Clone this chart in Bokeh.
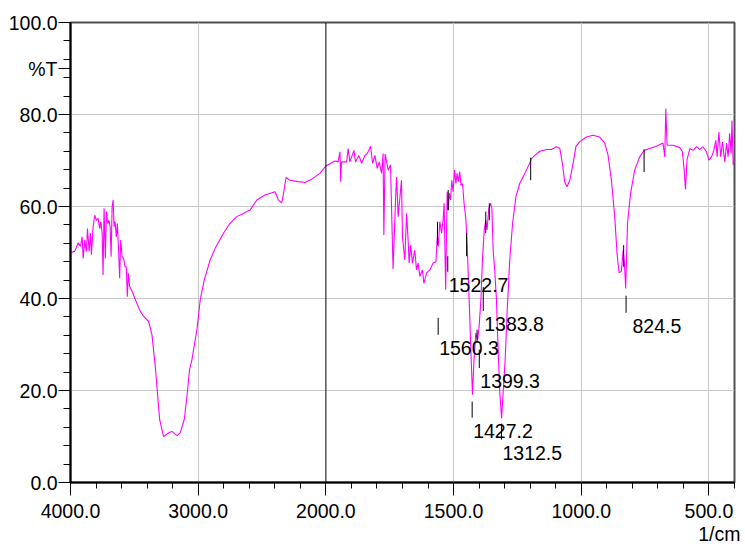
import numpy as np
from bokeh.plotting import figure
from bokeh.models import Range1d, FixedTicker, Span, ColumnDataSource, Title
from bokeh.core.properties import value
from bokeh.embed import file_html
from bokeh.resources import INLINE

# ---------------- data ----------------
wavenumber = [
    4000, 3992, 3966, 3940, 3922, 3909, 3901, 3888, 3875, 3867, 3854, 3844, 3836, 3823, 3810,
    3797, 3784, 3771, 3763, 3752, 3745, 3737, 3727, 3719, 3709, 3698, 3690, 3682, 3674, 3666,
    3659, 3651, 3641, 3633, 3623, 3615, 3607, 3596, 3584, 3573, 3563, 3555, 3547, 3537, 3523,
    3510, 3498, 3453, 3427, 3388, 3362, 3336, 3302, 3271, 3232, 3205, 3166, 3141, 3109, 3088,
    3068, 3049, 3010, 2984, 2953, 2906, 2867, 2802, 2750, 2698, 2646, 2607, 2594, 2541, 2477,
    2398, 2372, 2346, 2334, 2312, 2281, 2216, 2164, 2112, 2047, 2000, 1984, 1965, 1952, 1945,
    1942, 1939, 1919, 1913, 1906, 1890, 1884, 1871, 1860, 1847, 1837, 1825, 1817, 1808, 1799,
    1791, 1782, 1776, 1773, 1768, 1756, 1747, 1737, 1726, 1723, 1717, 1710, 1704, 1700, 1691,
    1684, 1678, 1674, 1668, 1661, 1652, 1645, 1639, 1632, 1622, 1616, 1606, 1593, 1580, 1569,
    1564, 1560, 1554, 1547, 1541, 1537, 1531, 1525, 1521, 1517, 1512, 1507, 1502, 1496, 1491,
    1486, 1481, 1476, 1471, 1465, 1459, 1452, 1447, 1439, 1431, 1426, 1420, 1413, 1406, 1400,
    1393, 1387, 1380, 1374, 1369, 1362, 1355, 1350, 1345, 1339, 1332, 1326, 1319, 1312, 1306,
    1298, 1290, 1280, 1269, 1256, 1241, 1221, 1202, 1195, 1182, 1162, 1136, 1117, 1097, 1084,
    1074, 1065, 1056, 1045, 1032, 1021, 1006, 980, 954, 928, 908, 895, 882, 869, 860,
    852, 843, 836, 831, 826, 819, 807, 791, 771, 754, 732, 706, 680, 673, 669,
    664, 641, 614, 604, 597, 592, 586, 575, 562, 549, 536, 524, 510, 500, 490,
    481, 473, 468, 461, 454, 447, 438, 431, 425, 419, 413, 410, 405, 400,
]
transmittance = [
    50.0, 50.0, 50.3, 52.1, 51.3, 53.4, 48.7, 52.7, 50.2, 55.2, 50.2, 54.2, 49.5, 55.6, 58.1,
    57.0, 57.4, 55.2, 56.7, 54.2, 45.1, 59.6, 48.7, 58.9, 56.3, 57.0, 55.6, 49.1, 60.0, 61.4,
    55.6, 56.7, 53.4, 56.3, 50.2, 44.4, 52.7, 49.1, 48.7, 46.9, 46.9, 40.4, 45.5, 42.6, 41.9,
    41.1, 40.1, 37.2, 36.1, 35.0, 32.1, 25.2, 13.7, 10.0, 10.8, 11.1, 10.2, 10.8, 13.7, 18.7,
    24.5, 26.7, 33.2, 39.7, 44.0, 48.4, 50.9, 54.2, 56.4, 57.8, 58.5, 59.1, 59.2, 61.4, 62.5,
    63.2, 61.4, 60.8, 62.5, 66.3, 65.7, 65.4, 65.2, 65.9, 67.2, 68.8, 69.3, 69.9, 69.7, 71.9,
    65.4, 69.7, 69.7, 72.6, 69.7, 72.2, 69.7, 71.1, 69.4, 71.1, 71.6, 73.1, 69.4, 71.1, 68.3,
    69.7, 67.2, 71.5, 53.8, 71.4, 67.9, 69.0, 46.4, 63.2, 66.4, 57.8, 62.1, 65.7, 53.4, 48.4,
    58.5, 52.7, 47.7, 51.6, 47.7, 50.5, 46.2, 47.7, 44.8, 46.2, 43.3, 45.5, 46.2, 47.7, 48.0,
    53.4, 51.3, 56.7, 54.2, 57.0, 60.7, 41.9, 63.2, 59.2, 62.9, 61.4, 65.7, 63.2, 67.9, 65.0,
    67.2, 65.4, 67.6, 64.6, 65.0, 60.7, 57.4, 52.0, 39.7, 26.7, 19.1, 26.7, 32.5, 31.0, 33.9,
    39.7, 48.4, 54.9, 57.0, 54.9, 59.6, 60.7, 59.6, 50.5, 46.2, 39.7, 29.6, 19.5, 14.0, 19.5,
    26.7, 37.5, 48.4, 56.3, 62.1, 65.0, 67.2, 69.4, 70.4, 71.1, 72.0, 72.4, 72.4, 73.0, 72.6,
    69.4, 65.4, 64.3, 65.7, 69.4, 73.0, 74.1, 75.1, 75.5, 75.1, 73.8, 71.1, 65.7, 57.8, 49.8,
    45.6, 45.9, 50.5, 47.7, 42.2, 56.3, 62.8, 67.9, 70.8, 72.2, 72.6, 73.1, 73.8, 70.8, 81.3,
    73.3, 73.3, 72.8, 71.9, 67.9, 63.7, 70.1, 72.6, 72.2, 73.0, 72.4, 73.0, 71.9, 70.1, 70.8,
    72.2, 74.4, 70.8, 76.2, 70.8, 74.0, 69.7, 73.8, 70.8, 75.9, 71.5, 78.7, 69.0, 70.0,
]

# labelled peaks: position, label, tick top / bottom (%T)
peak_wn = [1560.3, 1522.7, 1427.2, 1399.3, 1383.8, 1312.5, 824.5]
peak_labels = ["1560.3", "1522.7", "1427.2", "1399.3", "1383.8", "1312.5", "824.5"]
peak_tick_top = [35.8, 49.2, 17.6, 28.9, 42.5, 12.8, 40.6]
peak_tick_bottom = [32.1, 45.8, 14.1, 24.9, 37.3, 9.3, 36.9]

# unlabelled peak marks
mark_wn = [1563, 1521, 1449, 1408, 1374, 1360, 1198, 834, 754]
mark_top = [56.7, 63.6, 54.2, 33.2, 58.9, 60.7, 70.6, 51.6, 72.4]
mark_bottom = [51.6, 59.2, 49.2, 30.4, 54.2, 57.0, 65.7, 46.9, 67.5]

x_major_wn = [4000, 3000, 2000, 1500, 1000, 500]
x_major_labels = ["4000.0", "3000.0", "2000.0", "1500.0", "1000.0", "500.0"]
y_major = [0, 20, 40, 60, 80, 100]
y_unit_pos = 90
y_unit_text = "%T"
x_unit_text = "1/cm"

wn_max, wn_split, wn_min = 4000, 2000, 400
compress = 2.0  # region above split drawn at half scale


def to_display(w):
    w = np.asarray(w, dtype=float)
    return np.where(w >= wn_split, (wn_max - w) / compress,
                    (wn_max - wn_split) / compress + (wn_split - w))


# ---------------- figure ----------------
FONT = "Liberation Sans"
FS = "19.5px"
d_max = float(to_display(wn_min))

p = figure(width=745, height=544, output_backend="svg", toolbar_location=None,
           x_range=Range1d(0, d_max), y_range=Range1d(0, 100),
           min_border_left=70, min_border_right=11, min_border_top=22, min_border_bottom=61)
p.background_fill_color = "white"
p.border_fill_color = "white"
p.outline_line_color = "#505050"
p.outline_line_width = 2

major_d = [float(v) for v in to_display(x_major_wn)]
minor_d = list(np.arange(0, d_max + 1, 100.0))
p.xaxis.ticker = FixedTicker(ticks=major_d, minor_ticks=minor_d)
p.xaxis.major_label_overrides = {d: lab for d, lab in zip(major_d, x_major_labels)}

y_ticks = sorted(y_major + [y_unit_pos])
p.yaxis.ticker = FixedTicker(ticks=y_ticks, minor_ticks=list(range(0, 101, 4)))
p.yaxis.major_label_overrides = {float(v): f"{v:.1f}" for v in y_major}
p.yaxis.major_label_overrides[float(y_unit_pos)] = y_unit_text

for ax in (p.xaxis, p.yaxis):
    ax.axis_line_color = "black"
    ax.axis_line_width = 2
    ax.major_tick_line_color = "black"
    ax.minor_tick_line_color = "black"
    ax.major_tick_in = 0
    ax.minor_tick_in = 0
    ax.major_label_text_font = FONT
    ax.major_label_text_font_size = FS
    ax.major_label_text_color = "black"
p.xaxis.major_tick_out = 13
p.xaxis.minor_tick_out = 6
p.xaxis.major_label_standoff = 8
p.yaxis.major_tick_out = 12
p.yaxis.minor_tick_out = 7
p.yaxis.major_label_standoff = 1

unit_title = Title(text=x_unit_text, align="right", offset=-6, standoff=0,
                   text_font=FONT, text_font_size=FS, text_font_style="normal",
                   text_color="black")
p.add_layout(unit_title, "below")

p.xgrid.ticker = FixedTicker(ticks=[d for d in major_d if 0 < d < d_max and d != float(to_display(wn_split))])
p.ygrid.ticker = FixedTicker(ticks=[v for v in y_major if 0 < v < 100])
p.xgrid.grid_line_color = "#c8c8c8"
p.ygrid.grid_line_color = "#c8c8c8"

p.add_layout(Span(location=float(to_display(wn_split)), dimension="height",
                  line_color="black", line_width=1))

# spectrum
p.line(to_display(wavenumber), transmittance, line_color="#ff00ff", line_width=1.1)

# unlabelled marks
md = to_display(mark_wn)
p.segment(md, mark_top, md, mark_bottom, line_color="black", line_width=1)

# labelled peaks
pd_ = to_display(peak_wn)
p.segment(pd_, peak_tick_top, pd_, peak_tick_bottom, line_color="black", line_width=1)
offs = [1 + (6 - len(s)) * 5.4 for s in peak_labels]
src = ColumnDataSource(dict(x=pd_, y=peak_tick_bottom, t=peak_labels, xo=offs))
p.text(x="x", y="y", text="t", x_offset="xo", y_offset=6, source=src,
       text_font=value(FONT), text_font_size=value(FS), text_color="black",
       text_align="left", text_baseline="top")

open("out.html", "w").write(file_html(p, INLINE))
